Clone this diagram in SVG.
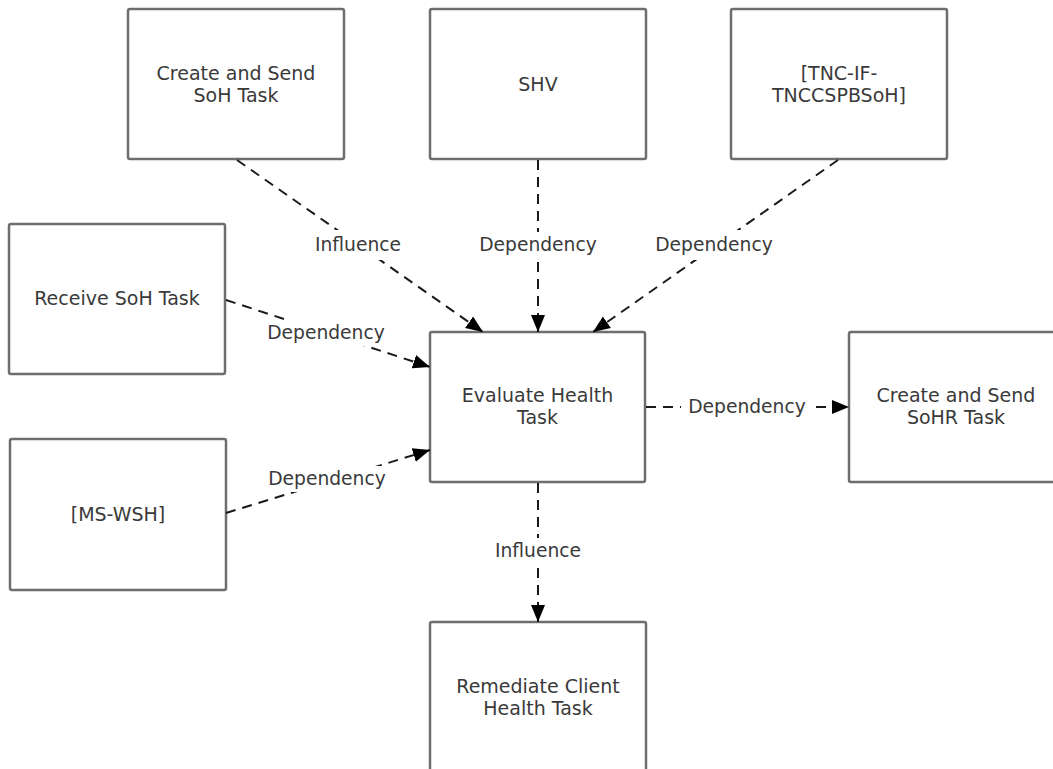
<svg xmlns="http://www.w3.org/2000/svg" width="1053" height="769" viewBox="0 0 1053 769">
  <style>
    .box { fill: #ffffff; stroke: #6e6e6e; stroke-width: 2.5; }
    .ntext { font-family: "DejaVu Sans", Verdana, sans-serif; font-size: 19px; fill: #3a3a3a; text-anchor: middle; }
    .edge { fill: none; stroke: #1a1a1a; stroke-width: 2; stroke-dasharray: 10 7; }
    .lbg { fill: #ffffff; stroke: none; }
    .ltext { font-family: "DejaVu Sans", Verdana, sans-serif; font-size: 18.7px; fill: #3a3a3a; text-anchor: middle; }
  </style>
  <defs>
    <marker id="arrow" markerUnits="userSpaceOnUse" markerWidth="18" markerHeight="16" viewBox="0 0 18 16" refX="17" refY="8" orient="auto">
      <path d="M0,1 L17,8 L0,15 Z" fill="#000000"/>
    </marker>
  </defs>
  <rect width="1053" height="769" fill="#ffffff"/>

  <!-- nodes -->
  <g id="create-send-soh">
    <rect class="box" x="128" y="9" width="216" height="150" rx="2"/>
    <text class="ntext" x="236" y="80">Create and Send</text>
    <text class="ntext" x="236" y="102">SoH Task</text>
  </g>
  <g id="shv">
    <rect class="box" x="430" y="9" width="216" height="150" rx="2"/>
    <text class="ntext" x="538" y="91">SHV</text>
  </g>
  <g id="tnc-if">
    <rect class="box" x="731" y="9" width="216" height="150" rx="2"/>
    <text class="ntext" x="839" y="80">[TNC-IF-</text>
    <text class="ntext" x="839" y="102">TNCCSPBSoH]</text>
  </g>
  <g id="receive-soh">
    <rect class="box" x="9" y="224" width="216" height="150" rx="2"/>
    <text class="ntext" x="117" y="305">Receive SoH Task</text>
  </g>
  <g id="evaluate-health">
    <rect class="box" x="430" y="332" width="215" height="150" rx="2"/>
    <text class="ntext" x="537.5" y="402">Evaluate Health</text>
    <text class="ntext" x="537.5" y="424">Task</text>
  </g>
  <g id="create-send-sohr">
    <rect class="box" x="849" y="332" width="216" height="150" rx="2"/>
    <text class="ntext" x="956" y="402">Create and Send</text>
    <text class="ntext" x="956" y="424">SoHR Task</text>
  </g>
  <g id="ms-wsh">
    <rect class="box" x="10" y="439" width="216" height="151" rx="2"/>
    <text class="ntext" x="118" y="521">[MS-WSH]</text>
  </g>
  <g id="remediate-client">
    <rect class="box" x="430" y="622" width="216" height="150" rx="2"/>
    <text class="ntext" x="538" y="693">Remediate Client</text>
    <text class="ntext" x="538" y="715">Health Task</text>
  </g>

  <!-- connectors -->
  <g id="connectors">
    <line class="edge" x1="237" y1="160" x2="483" y2="332" marker-end="url(#arrow)"/>
    <line class="edge" x1="538" y1="160" x2="538" y2="332" marker-end="url(#arrow)"/>
    <line class="edge" x1="838" y1="160" x2="593" y2="332" marker-end="url(#arrow)"/>
    <line class="edge" x1="226" y1="300" x2="430" y2="367" marker-end="url(#arrow)"/>
    <line class="edge" x1="226" y1="513" x2="430" y2="450" marker-end="url(#arrow)"/>
    <line class="edge" x1="646" y1="407" x2="849" y2="407" marker-end="url(#arrow)"/>
    <line class="edge" x1="538" y1="483" x2="538" y2="622" marker-end="url(#arrow)"/>

    <rect class="lbg" x="308" y="230" width="100" height="30"/>
    <text class="ltext" x="358" y="251">Influence</text>
    <rect class="lbg" x="472" y="232" width="132" height="26"/>
    <text class="ltext" x="538" y="251">Dependency</text>
    <rect class="lbg" x="648" y="230" width="132" height="30"/>
    <text class="ltext" x="714" y="251">Dependency</text>
    <rect class="lbg" x="260" y="320" width="132" height="26"/>
    <text class="ltext" x="326" y="339">Dependency</text>
    <rect class="lbg" x="261" y="466" width="132" height="26"/>
    <text class="ltext" x="327" y="485">Dependency</text>
    <rect class="lbg" x="681" y="394" width="132" height="26"/>
    <text class="ltext" x="747" y="413">Dependency</text>
    <rect class="lbg" x="488" y="538" width="100" height="26"/>
    <text class="ltext" x="538" y="557">Influence</text>
  </g>
</svg>
